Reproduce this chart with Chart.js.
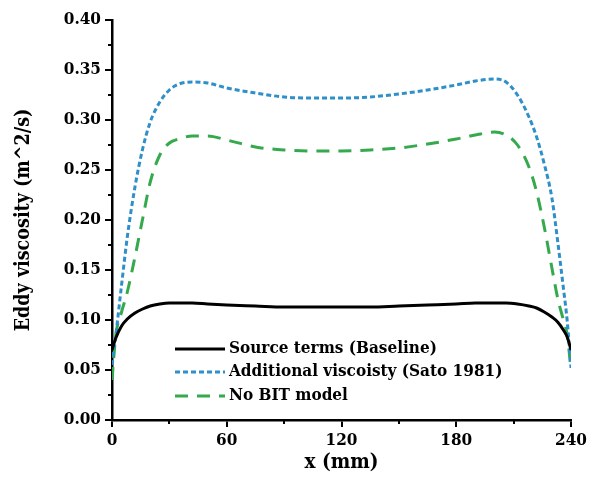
<!DOCTYPE html>
<html>
<head>
<meta charset="utf-8">
<script src="https://cdn.jsdelivr.net/npm/chart.js@4.4.1/dist/chart.umd.min.js"></script>
<style>
  html, body { margin: 0; padding: 0; background: #ffffff; }
  #wrap { width: 590px; height: 484px; position: relative; }
</style>
</head>
<body>
<div id="wrap"><canvas id="c" width="590" height="484"></canvas></div>
<script>
// Position across the channel (mm)
const xPositions = [0, 2, 5, 8, 12, 16, 20, 25, 30, 35, 42, 50, 60, 75, 90, 105, 120,
  135, 150, 165, 180, 190, 200, 206, 212, 218, 222, 226, 230, 233, 236, 238, 240];

// Eddy viscosity (m^2/s) for each model
const baseline = [0.070, 0.082, 0.094, 0.101, 0.107, 0.111, 0.114, 0.116, 0.117, 0.117, 0.117,
  0.116, 0.115, 0.114, 0.113, 0.113, 0.113, 0.113, 0.114, 0.115, 0.116, 0.117, 0.117, 0.117,
  0.116, 0.114, 0.112, 0.108, 0.103, 0.098, 0.090, 0.083, 0.070];
const sato = [0.055, 0.085, 0.135, 0.183, 0.233, 0.271, 0.298, 0.318, 0.330, 0.336, 0.338,
  0.337, 0.332, 0.327, 0.323, 0.322, 0.322, 0.323, 0.326, 0.330, 0.335, 0.339, 0.341, 0.338,
  0.325, 0.303, 0.283, 0.256, 0.222, 0.179, 0.132, 0.099, 0.052];
const noBit = [0.040, 0.085, 0.108, 0.128, 0.163, 0.201, 0.238, 0.265, 0.277, 0.281, 0.284,
  0.284, 0.280, 0.273, 0.270, 0.269, 0.269, 0.270, 0.272, 0.276, 0.281, 0.285, 0.288, 0.285,
  0.275, 0.253, 0.228, 0.193, 0.152, 0.122, 0.100, 0.085, 0.050];

const seriesLabels = ['Source terms (Baseline)', 'Additional viscoisty (Sato 1981)', 'No BIT model'];
const xTickValues = [0, 60, 120, 180, 240];

const FONT = '"DejaVu Serif Condensed", "DejaVu Serif", serif';

function pts(ys) { return xPositions.map((x, i) => ({ x: x, y: ys[i] })); }

// Short minor ticks between the labelled ones
const minorTicks = {
  id: 'minorTicks',
  afterDraw(chart) {
    const ctx = chart.ctx;
    const xs = chart.scales.x, ys = chart.scales.y;
    ctx.save();
    ctx.strokeStyle = '#000';
    ctx.lineWidth = 2;
    ctx.beginPath();
    for (let v = 30; v < 240; v += 60) {
      const px = Math.round(xs.getPixelForValue(v));
      ctx.moveTo(px, xs.top); ctx.lineTo(px, xs.top + 4);
    }
    for (let v = 0.025; v < 0.4; v += 0.05) {
      const py = Math.round(ys.getPixelForValue(v));
      ctx.moveTo(ys.right, py); ctx.lineTo(ys.right - 4, py);
    }
    ctx.stroke();
    ctx.restore();
  }
};

// Legend drawn inside the plot, lower-left
const innerLegend = {
  id: 'innerLegend',
  afterDatasetsDraw(chart) {
    const ctx = chart.ctx;
    const area = chart.chartArea;
    const x0 = area.left + 63, x1 = area.left + 113, tx = area.left + 117;
    const rowY = [area.bottom - 71, area.bottom - 48, area.bottom - 24];
    ctx.save();
    chart.data.datasets.forEach((ds, i) => {
      ctx.beginPath();
      ctx.strokeStyle = ds.borderColor;
      ctx.lineWidth = ds.borderWidth;
      ctx.setLineDash(ds.borderDash || []);
      ctx.moveTo(x0, rowY[i]); ctx.lineTo(x1, rowY[i]);
      ctx.stroke();
      ctx.setLineDash([]);
      ctx.fillStyle = '#000';
      ctx.font = 'bold 17px ' + FONT;
      ctx.textBaseline = 'middle';
      ctx.fillText(ds.label, tx, rowY[i]);
    });
    ctx.restore();
  }
};

new Chart(document.getElementById('c'), {
  type: 'line',
  data: {
    datasets: [
      { label: seriesLabels[0], data: pts(baseline), borderColor: '#000000', borderWidth: 3,
        pointRadius: 0, cubicInterpolationMode: 'monotone', fill: false },
      { label: seriesLabels[1], data: pts(sato), borderColor: '#2e8fc9', borderWidth: 3,
        borderDash: [5, 3], pointRadius: 0, cubicInterpolationMode: 'monotone', fill: false },
      { label: seriesLabels[2], data: pts(noBit), borderColor: '#35a94d', borderWidth: 3,
        borderDash: [13, 9], pointRadius: 0, cubicInterpolationMode: 'monotone', fill: false }
    ]
  },
  options: {
    responsive: false,
    animation: false,
    layout: { padding: { top: 20, right: 15, left: 12, bottom: 0 } },
    plugins: { legend: { display: false }, tooltip: { enabled: false } },
    scales: {
      x: {
        type: 'linear', min: 0, max: 240,
        afterBuildTicks(scale) { scale.ticks = xTickValues.map(v => ({ value: v })); },
        afterFit(scale) { scale.height = 64; },
        border: { display: true, color: '#000', width: 2.5 },
        grid: { drawOnChartArea: false, drawTicks: true, tickLength: 7, color: '#000', lineWidth: 2 },
        ticks: { color: '#000', padding: 3, maxRotation: 0,
          font: { family: FONT, size: 17, weight: 'bold' } },
        title: { display: true, text: 'x (mm)', color: '#000', padding: { top: 0, bottom: 9 },
          font: { family: FONT, size: 20.5, weight: 'bold' } }
      },
      y: {
        type: 'linear', min: 0, max: 0.4,
        afterFit(scale) { scale.width = 100; },
        border: { display: true, color: '#000', width: 2.5 },
        grid: { drawOnChartArea: false, drawTicks: true, tickLength: 7, color: '#000', lineWidth: 2 },
        ticks: { stepSize: 0.05, color: '#000', padding: 4,
          callback: v => v.toFixed(2),
          font: { family: FONT, size: 17, weight: 'bold' } },
        title: { display: true, text: 'Eddy viscosity (m^2/s)', color: '#000', padding: { top: 0, bottom: 4 },
          font: { family: FONT, size: 19.5, weight: 'bold' } }
      }
    }
  },
  plugins: [minorTicks, innerLegend]
});
</script>
</body>
</html>
